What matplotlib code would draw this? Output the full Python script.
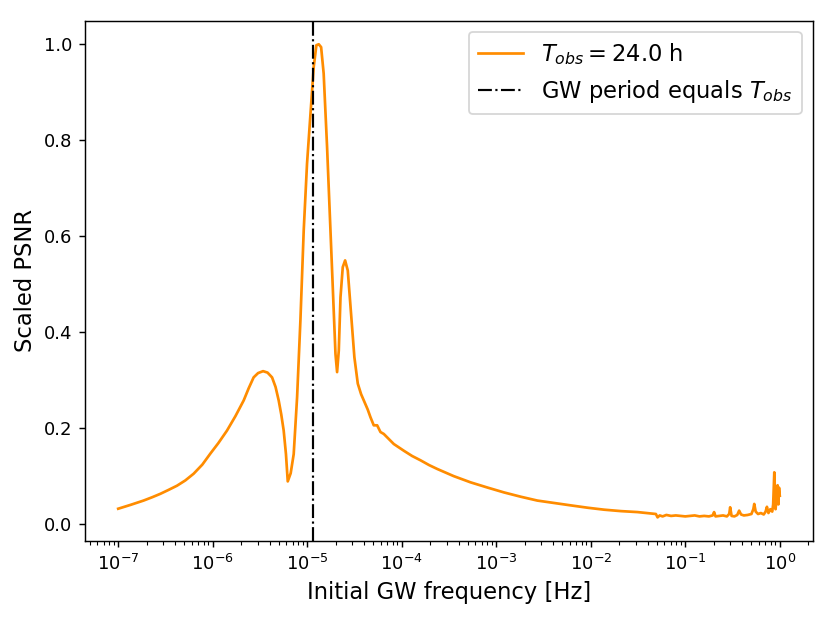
import matplotlib
matplotlib.use('Agg')
import matplotlib.pyplot as plt
import numpy as np

# log10 of the initial GW frequency [Hz]
log_freq = [
    -7.000, -6.870, -6.732, -6.640, -6.555, -6.470, -6.378, -6.290,
    -6.202, -6.110, -6.025, -5.940, -5.849, -5.760, -5.672, -5.620,
    -5.567, -5.520, -5.467, -5.420, -5.372, -5.335, -5.302, -5.275,
    -5.249, -5.225, -5.206, -5.175, -5.143, -5.107, -5.072, -5.037,
    -5.002, -4.966, -4.931, -4.903, -4.878, -4.853, -4.826, -4.790,
    -4.754, -4.719, -4.701, -4.684, -4.666, -4.648, -4.624, -4.599,
    -4.571, -4.536, -4.501, -4.465, -4.430, -4.402, -4.360, -4.331,
    -4.296, -4.260, -4.225, -4.190, -4.155, -4.084, -3.978, -3.890,
    -3.801, -3.710, -3.625, -3.450, -3.271, -3.090, -2.918, -2.740,
    -2.565, -2.390, -2.212, -2.030, -1.859, -1.680, -1.506, -1.311,
    # noisy tail
    -1.293, -1.270, -1.240, -1.200, -1.150, -1.100, -1.050, -1.000,
    -0.950, -0.900, -0.850, -0.800, -0.750, -0.710, -0.695, -0.680,
    -0.640, -0.600, -0.560, -0.535, -0.525, -0.510, -0.480, -0.450,
    -0.430, -0.410, -0.380, -0.340, -0.300, -0.280, -0.270, -0.255,
    -0.230, -0.200, -0.170, -0.150, -0.136, -0.120, -0.100, -0.080,
    -0.070, -0.058, -0.045, -0.035, -0.023, -0.015, -0.008, 0.000,
]

psnr = [
    0.031, 0.039, 0.048, 0.055, 0.062, 0.070, 0.079, 0.090,
    0.104, 0.123, 0.146, 0.168, 0.194, 0.224, 0.257, 0.282,
    0.305, 0.314, 0.318, 0.315, 0.305, 0.285, 0.257, 0.228,
    0.194, 0.145, 0.088, 0.105, 0.145, 0.264, 0.424, 0.612,
    0.751, 0.855, 0.953, 0.998, 1.000, 0.994, 0.939, 0.786,
    0.612, 0.438, 0.354, 0.316, 0.361, 0.472, 0.535, 0.549,
    0.528, 0.438, 0.347, 0.292, 0.270, 0.257, 0.238, 0.222,
    0.205, 0.205, 0.191, 0.187, 0.180, 0.166, 0.152, 0.141,
    0.132, 0.122, 0.114, 0.099, 0.086, 0.075, 0.065, 0.056,
    0.048, 0.043, 0.038, 0.033, 0.029, 0.026, 0.024, 0.020,
    0.013, 0.017, 0.015, 0.018, 0.016, 0.017, 0.016, 0.015,
    0.016, 0.017, 0.015, 0.016, 0.015, 0.017, 0.024, 0.015,
    0.016, 0.017, 0.015, 0.020, 0.034, 0.016, 0.015, 0.018,
    0.027, 0.019, 0.017, 0.018, 0.020, 0.030, 0.041, 0.025,
    0.020, 0.022, 0.019, 0.025, 0.035, 0.022, 0.030, 0.025,
    0.040, 0.107, 0.030, 0.050, 0.080, 0.040, 0.075, 0.058,
]

T_obs_h = 24.0
f_period = 1.0 / (T_obs_h * 3600.0)

freq = 10.0 ** np.array(log_freq)

fig, ax = plt.subplots(figsize=(6.4, 4.8), dpi=130)
fig.subplots_adjust(left=0.1023, right=0.977, top=0.967, bottom=0.133)

ax.plot(freq, psnr, color='darkorange', lw=1.5,
        label=r'$T_{obs} = %.1f$ h' % T_obs_h)
ax.axvline(f_period, color='k', ls='-.', lw=1.2,
           label=r'GW period equals $T_{obs}$')

ax.set_xscale('log')
ax.set_xlabel('Initial GW frequency [Hz]', fontsize=12.5)
ax.set_ylabel('Scaled PSNR', fontsize=12.5)
ax.legend(fontsize=12.5, loc='upper right')

fig.savefig('out.png', dpi=130)
